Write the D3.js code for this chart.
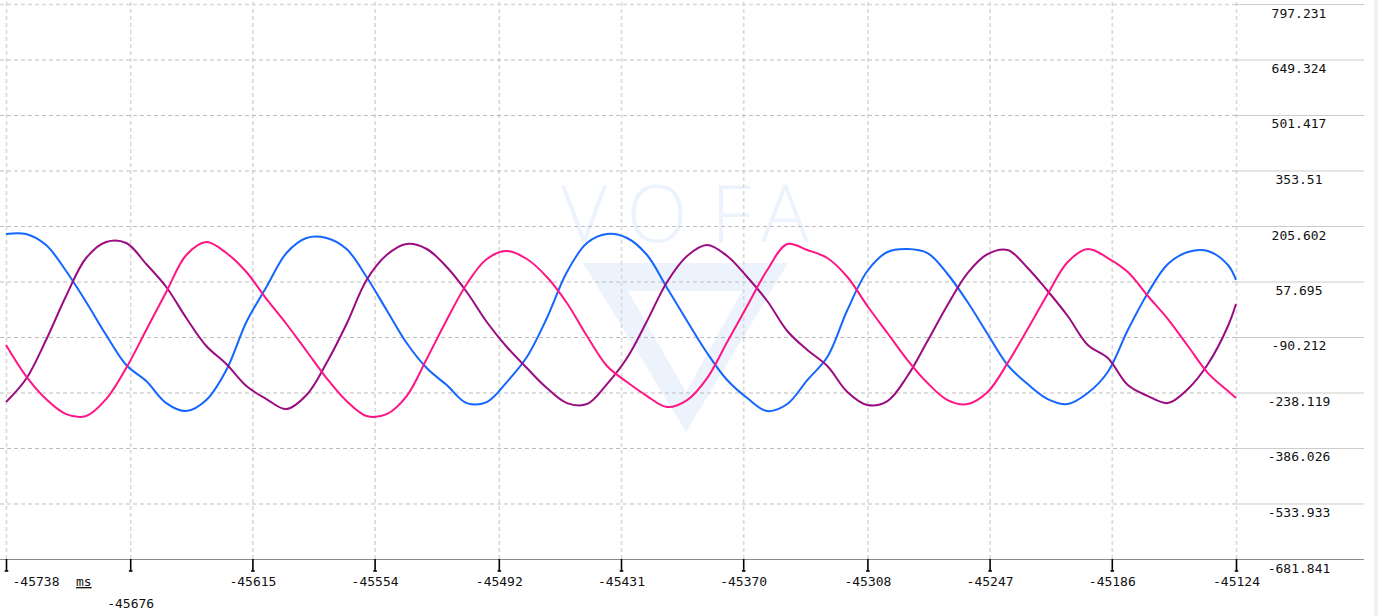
<!DOCTYPE html>
<html>
<head>
<meta charset="utf-8">
<script src="https://cdn.jsdelivr.net/npm/d3@7"></script>
<style>
  html, body { margin: 0; padding: 0; background: #fff; overflow: hidden; }
  svg { display: block; }
  text { font-family: "DejaVu Sans Mono", "Liberation Mono", monospace; font-size: 13px; fill: #111; }
</style>
</head>
<body>
<script>
// ---------- data ----------
const timeMs = [
  -45738, -45728, -45718, -45708, -45698, -45688, -45678, -45668, -45658, -45648,
  -45638, -45628, -45618, -45608, -45598, -45588, -45578, -45568, -45558, -45548,
  -45538, -45528, -45518, -45508, -45498, -45488, -45478, -45468, -45458, -45448,
  -45438, -45428, -45418, -45408, -45398, -45388, -45378, -45368, -45358, -45348,
  -45338, -45328, -45318, -45308, -45298, -45288, -45278, -45268, -45258, -45248,
  -45238, -45228, -45218, -45208, -45198, -45188, -45178, -45168, -45158, -45148,
  -45138, -45128, -45124
];
const blueSeries = [
  184.3, 184.3, 154.9, 85.7, 3.1, -84.9, -164.9, -207.6, -266.3, -287.6,
  -258.3, -178.3, -50.3, 43.0, 133.6, 173.6, 173.6, 144.3, 69.7, -18.3,
  -106.3, -172.9, -218.3, -266.3, -263.6, -210.3, -143.6, -39.6, 83.0, 160.3,
  184.3, 173.6, 128.3, 40.4, -47.6, -132.9, -204.9, -252.9, -287.6, -268.9,
  -204.9, -143.6, -18.3, 85.7, 136.3, 144.3, 133.6, 77.7, 3.1, -82.2,
  -164.9, -215.6, -255.6, -268.9, -239.6, -183.6, -71.6, 27.1, 104.3, 136.3,
  138.9, 101.7, 61.7
];
const pinkSeries = [
  -111.6, -194.3, -255.6, -295.6, -300.9, -255.6, -172.9, -71.6, 29.7, 128.3,
  162.9, 133.6, 83.0, 11.1, -55.6, -127.6, -199.6, -260.9, -300.9, -295.6,
  -247.6, -148.9, -44.9, 51.0, 117.6, 138.9, 117.6, 69.7, 0.4, -87.6,
  -167.6, -210.3, -247.6, -276.9, -258.3, -199.6, -103.6, -7.6, 88.3, 157.6,
  141.6, 120.3, 69.7, -7.6, -79.6, -151.6, -212.9, -258.3, -268.9, -236.9,
  -159.6, -68.9, 24.4, 109.7, 144.3, 120.3, 83.0, 19.1, -42.3, -114.2,
  -186.3, -234.3, -252.9
];
const purpleSeries = [
  -263.6, -202.3, -98.2, 19.1, 120.3, 162.9, 160.3, 104.3, 43.0, -39.6,
  -114.2, -162.3, -220.9, -255.6, -282.3, -244.9, -159.6, -55.6, 61.7, 128.3,
  157.6, 144.3, 96.3, 29.7, -50.3, -116.9, -172.9, -226.3, -266.3, -268.9,
  -215.6, -146.2, -47.6, 56.4, 125.6, 154.9, 125.6, 69.7, 5.7, -74.2,
  -124.9, -167.6, -236.9, -271.6, -260.9, -194.3, -100.9, -4.9, 80.3, 130.9,
  141.6, 93.7, 32.4, -34.3, -111.6, -146.2, -218.3, -247.6, -266.3, -228.9,
  -162.3, -60.9, -2.3
];
const xTickValues = [-45738, -45676, -45615, -45554, -45492, -45431, -45370, -45308, -45247, -45186, -45124];
const yTickLabels = ["797.231", "649.324", "501.417", "353.51", "205.602", "57.695", "-90.212", "-238.119", "-386.026", "-533.933", "-681.841"];
const xUnit = "ms";
const watermarkLetters = ["V", "O", "F", "A"];

// ---------- setup ----------
const W = 1378, H = 616;
const svg = d3.select("body").append("svg").attr("width", W).attr("height", H);

const x = d3.scaleLinear().domain([-45738, -45124]).range([6, 1236]);
const yTickValues = yTickLabels.map(Number);
const y = d3.scaleLinear().domain([-681.841, 797.231]).range([559, 4]);

// ---------- watermark ----------
const wm = svg.append("g").attr("class", "watermark");
const letterX = [584, 657, 731, 785];
wm.selectAll("text").data(watermarkLetters).join("text")
  .attr("x", (d, i) => letterX[i])
  .attr("y", 242)
  .attr("text-anchor", "middle")
  .style("font-family", "'Open Sans', 'Liberation Sans', sans-serif")
  .style("font-weight", 300)
  .style("font-size", "80px")
  .style("fill", "#edf3fc")
  .text(d => d);
wm.append("path")
  .attr("d", "M583,263 L788,263 L686,432 Z M628,291 L742,291 L686,392 Z")
  .attr("fill-rule", "evenodd")
  .attr("fill", "#edf3fc");

// ---------- grid ----------
const vGrid = svg.append("g").attr("transform", "translate(0,559)")
  .call(d3.axisBottom(x).tickValues(xTickValues).tickSize(-559).tickFormat(""));
vGrid.select(".domain").remove();
vGrid.selectAll(".tick line")
  .attr("stroke", "#d9d9d9").attr("stroke-width", 1.6).attr("stroke-dasharray", "4,3");

const hGrid = svg.append("g").attr("transform", "translate(0,0)")
  .call(d3.axisRight(y).tickValues(yTickValues).tickSize(1236).tickFormat(""));
hGrid.select(".domain").remove();
hGrid.selectAll(".tick line")
  .attr("stroke", (d, i) => i === 0 ? "#d9d9d9" : "#bdbdbd")
  .attr("stroke-width", (d, i) => i === 0 ? 1.6 : 1)
  .attr("stroke-dasharray", "4,3");

// ---------- lines ----------
const line = d3.line()
  .x((d, i) => x(timeMs[i]))
  .y(d => y(d))
  .curve(d3.curveCatmullRom.alpha(0.5));

const seriesList = [
  { name: "ch1", values: blueSeries, color: "#1466ff" },
  { name: "ch3", values: purpleSeries, color: "#9a0c80" },
  { name: "ch2", values: pinkSeries, color: "#ff1585" }
];
svg.append("g").selectAll("path").data(seriesList).join("path")
  .attr("d", d => line(d.values))
  .attr("fill", "none")
  .attr("stroke", d => d.color)
  .attr("stroke-width", 2)
  .attr("stroke-linejoin", "round");

// ---------- right axis ----------
const rAxis = svg.append("g").attr("transform", "translate(1236,0)")
  .call(d3.axisRight(y).tickValues(yTickValues).tickSize(128)
    .tickFormat((d, i) => yTickLabels[i]));
rAxis.select(".domain").remove();
rAxis.selectAll(".tick line").attr("stroke", "#cccccc").attr("stroke-width", 1);
rAxis.selectAll(".tick text")
  .attr("x", 63).attr("dy", null).attr("y", 13)
  .attr("text-anchor", "middle")
  .style("font-family", "'DejaVu Sans Mono', monospace")
  .style("font-size", "13px")
  .style("fill", "#111");

// ---------- bottom axis ----------
svg.append("line")
  .attr("x1", 0).attr("x2", 1364).attr("y1", 559.5).attr("y2", 559.5)
  .attr("stroke", "#8a8a8a").attr("stroke-width", 1);

const bAxis = svg.append("g").attr("transform", "translate(0,559)")
  .call(d3.axisBottom(x).tickValues(xTickValues).tickSize(12).tickFormat(d => String(d)));
bAxis.select(".domain").remove();
bAxis.selectAll(".tick line").attr("stroke", "#000").attr("stroke-width", 1.6);
bAxis.selectAll(".tick").append("line")
  .attr("x1", -1.8).attr("x2", 1.8).attr("y1", 12).attr("y2", 12)
  .attr("stroke", "#000").attr("stroke-width", 1.6);
bAxis.selectAll(".tick text")
  .attr("dy", null)
  .attr("y", (d, i) => i === 1 ? 49 : 27)
  .attr("x", (d, i) => i === 0 ? 6 : 0)
  .attr("text-anchor", (d, i) => i === 0 ? "start" : "middle")
  .style("font-family", "'DejaVu Sans Mono', monospace")
  .style("font-size", "13px")
  .style("fill", "#111");

svg.append("text")
  .attr("x", 76).attr("y", 586)
  .style("text-decoration", "underline")
  .text(xUnit);

// right edge strip
svg.append("rect").attr("x", 1374).attr("y", 0).attr("width", 4).attr("height", H).attr("fill", "#f0f0f0");
</script>
</body>
</html>
